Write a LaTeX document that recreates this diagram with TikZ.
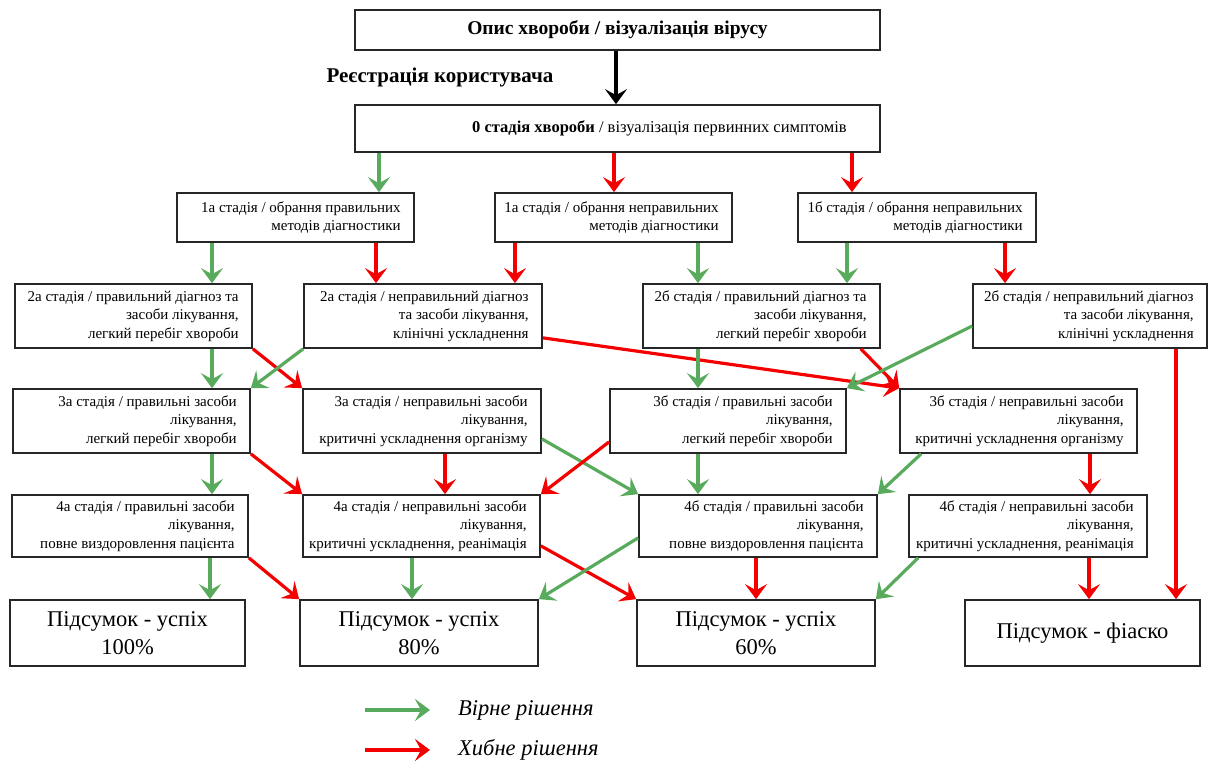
\documentclass[tikz,border=0pt]{standalone}
\usepackage{fontspec}
\setmainfont{Liberation Serif}
\usetikzlibrary{arrows.meta}
\definecolor{okgreen}{RGB}{88,170,92}
\definecolor{badred}{RGB}{245,0,0}
% a framed stage box with its text set flush right inside it
\newcommand\stagebox[6]{%
  \node[frame, minimum width=#4pt, minimum height=#5pt] (#1) at (#2,#3) {};
  \node[stagetext, anchor=east] (#1-text) at ([xshift=-14pt]#1.east) {#6};}
\begin{document}
\begin{tikzpicture}[x=1pt,y=-1pt,
  frame/.style={draw=black!85, line width=1.7pt, inner sep=0pt},
  stagetext/.style={inner sep=0pt, align=right, font=\fontsize{15}{18.5}\selectfont},
  result/.style={frame, align=center, minimum height=66pt, font=\fontsize{22.5}{28}\selectfont},
  link/.style={line width=3.2pt, -{Stealth[length=15pt,width=22pt,inset=6pt]}},
  good/.style={link, draw=okgreen, fill=okgreen},
  bad/.style={link, draw=badred, fill=badred},
  plain/.style={link, draw=black, fill=black},
  legendtext/.style={anchor=west, inner sep=0pt, font=\fontsize{22.5}{26}\selectfont\itshape}
]
\useasboundingbox (0,0) rectangle (1211,766);

% header
\node[frame, minimum width=525pt, minimum height=40pt, font=\fontsize{19.5}{22}\selectfont\bfseries]
  (top) at (617.5,30) {Опис хвороби / візуалізація вірусу};
\node[inner sep=0pt, font=\fontsize{21}{24}\selectfont\bfseries] (reg) at (440,77) {Реєстрація користувача};
\node[frame, minimum width=525pt, minimum height=47pt] (s0) at (617.5,128.5) {};
\node[inner sep=0pt, anchor=east, font=\fontsize{16.5}{19}\selectfont] (s0-text) at ([xshift=-34pt]s0.east)
  {\textbf{0 стадія хвороби} / візуалізація первинних симптомів};

% stage 1
\stagebox{b1a}{295.5}{217.5}{237}{49}{1а стадія / обрання правильних\\методів діагностики}
\stagebox{b1aw}{613.5}{217.5}{237}{49}{1а стадія / обрання неправильних\\методів діагностики}
\stagebox{b1b}{917}{217.5}{238}{49}{1б стадія / обрання неправильних\\методів діагностики}

% stage 2
\stagebox{b2a}{133.5}{316}{237}{64}{2а стадія / правильний діагноз та\\засоби лікування,\\легкий перебіг хвороби}
\stagebox{b2aw}{423}{316}{238}{64}{2а стадія / неправильний діагноз\\та засоби лікування,\\клінічні ускладнення}
\stagebox{b2b}{761.5}{316}{237}{64}{2б стадія / правильний діагноз та\\засоби лікування,\\легкий перебіг хвороби}
\stagebox{b2bw}{1090}{316}{234}{64}{2б стадія / неправильний діагноз\\та засоби лікування,\\клінічні ускладнення}

% stage 3
\stagebox{b3a}{131.5}{421}{237}{64}{3а стадія / правильні засоби\\лікування,\\легкий перебіг хвороби}
\stagebox{b3aw}{422}{421}{238}{64}{3а стадія / неправильні засоби\\лікування,\\критичні ускладнення організму}
\stagebox{b3b}{728}{421}{236}{64}{3б стадія / правильні засоби\\лікування,\\легкий перебіг хвороби}
\stagebox{b3bw}{1018.5}{421}{237}{64}{3б стадія / неправильні засоби\\лікування,\\критичні ускладнення організму}

% stage 4
\stagebox{b4a}{130}{526}{236}{62}{4а стадія / правильні засоби\\лікування,\\повне виздоровлення пацієнта}
\stagebox{b4aw}{421.5}{526}{237}{62}{4а стадія / неправильні засоби\\лікування,\\критичні ускладнення, реанімація}
\stagebox{b4b}{758}{526}{238}{62}{4б стадія / правильні засоби\\лікування,\\повне виздоровлення пацієнта}
\stagebox{b4bw}{1028}{526}{238}{62}{4б стадія / неправильні засоби\\лікування,\\критичні ускладнення, реанімація}

% outcomes
\node[result, minimum width=235pt] (r100)  at (127.5,633)  {Підсумок - успіх\\100\%};
\node[result, minimum width=238pt] (r80)   at (419,633)    {Підсумок - успіх\\80\%};
\node[result, minimum width=238pt] (r60)   at (756,633)    {Підсумок - успіх\\60\%};
\node[result, minimum width=235pt] (rfail) at (1082.5,633) {Підсумок - фіаско};

% header arrow
\draw[plain] (top.south -| 616,0) -- (s0.north -| 616,0);

% 0 -> 1
\draw[good] (s0.south -| 379,0) -- (b1a.north -| 379,0);
\draw[bad]  (s0.south -| 614,0) -- (b1aw.north -| 614,0);
\draw[bad]  (s0.south -| 852,0) -- (b1b.north -| 852,0);

% 1 -> 2
\draw[good] (b1a.south -| 212,0)   -- (b2a.north -| 212,0);
\draw[bad]  (b1a.south -| 376,0)   -- (b2aw.north -| 376,0);
\draw[bad]  (b1aw.south -| 515,0)  -- (b2aw.north -| 515,0);
\draw[good] (b1aw.south -| 698,0)  -- (b2b.north -| 698,0);
\draw[good] (b1b.south -| 847,0)   -- (b2b.north -| 847,0);
\draw[bad]  (b1b.south -| 1005,0)  -- (b2bw.north -| 1005,0);

% 2 -> 3
\draw[good] (b2a.south -| 212,0) -- (b3a.north -| 212,0);
\draw[bad]  (b2a.south east) -- (b3aw.north west);
\draw[good] (b2aw.south west) -- (b3a.north east);
\draw[bad]  ([yshift=11pt]b2aw.south east) -- (b3bw.north west);
\draw[good] (b2b.south -| 698,0) -- (b3b.north -| 698,0);
\draw[bad]  ([xshift=-20pt]b2b.south east) -- (b3bw.north west);
\draw[good] ([yshift=-10pt]b2bw.west) -- (b3b.north east);
\draw[bad]  (b2bw.south -| 1176,0) -- (rfail.north -| 1176,0);

% 3 -> 4
\draw[good] (b3a.south -| 212,0) -- (b4a.north -| 212,0);
\draw[bad]  (b3a.south east) -- (b4aw.north west);
\draw[bad]  (b3aw.south -| 445,0) -- (b4aw.north -| 445,0);
\draw[good] ([yshift=15pt]b3aw.south east) -- (b4b.north west);
\draw[bad]  ([yshift=12pt]b3b.south west) -- (b4aw.north east);
\draw[good] (b3b.south -| 698,0) -- (b4b.north -| 698,0);
\draw[good] ([xshift=22pt]b3bw.south west) -- (b4b.north east);
\draw[bad]  (b3bw.south -| 1090,0) -- (b4bw.north -| 1090,0);

% 4 -> outcomes
\draw[good] (b4a.south -| 210,0) -- (r100.north -| 210,0);
\draw[bad]  (b4a.south east) -- (r80.north west);
\draw[good] (b4aw.south -| 412,0) -- (r80.north -| 412,0);
\draw[bad]  ([yshift=12pt]b4aw.south east) -- (r60.north west);
\draw[good] ([yshift=20pt]b4b.south west) -- (r80.north east);
\draw[bad]  (b4b.south -| 756,0) -- (r60.north -| 756,0);
\draw[good] ([xshift=10pt]b4bw.south west) -- (r60.north east);
\draw[bad]  (b4bw.south -| 1089,0) -- (rfail.north -| 1089,0);

% legend
\coordinate (g0) at (365,710);
\coordinate (g1) at (430,710);
\coordinate (h0) at (365,750);
\coordinate (h1) at (430,750);
\draw[good] (g0) -- (g1);
\draw[bad]  (h0) -- (h1);
\node[legendtext] (gtxt) at (458,710) {Вірне рішення};
\node[legendtext] (htxt) at (458,750) {Хибне рішення};
\end{tikzpicture}
\end{document}
